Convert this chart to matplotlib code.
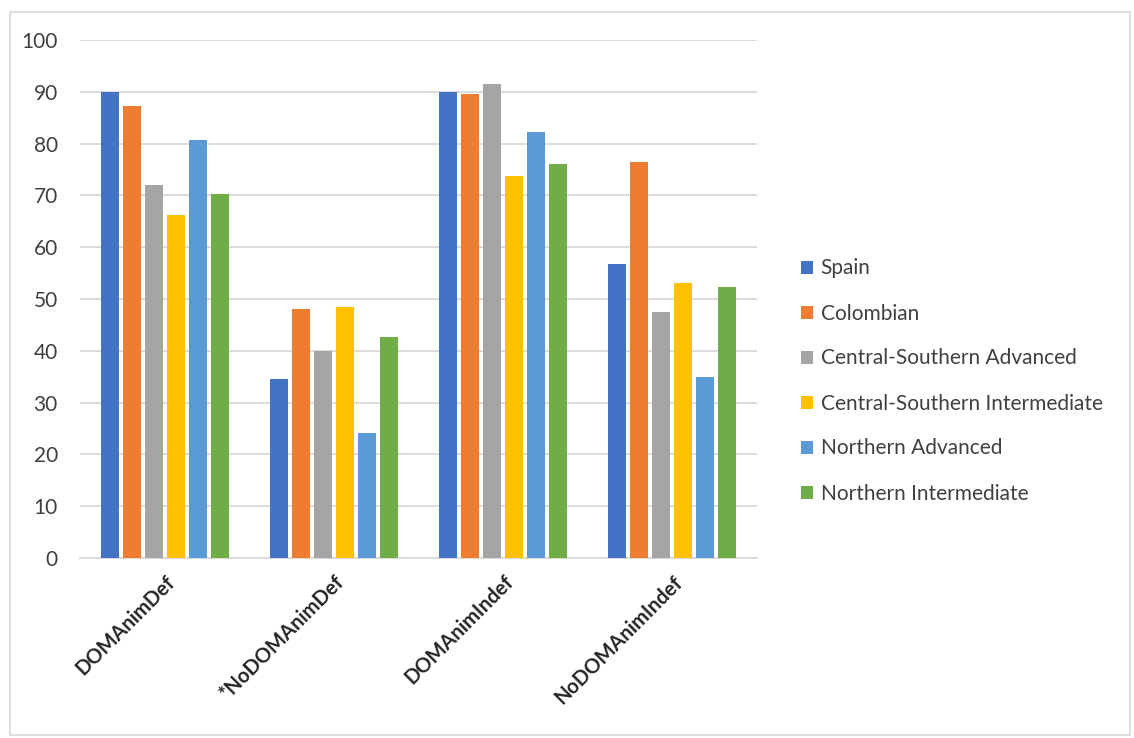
import numpy as np
import matplotlib.pyplot as plt
from matplotlib.patches import Rectangle

# categories and series
categories = ["DOMAnimDef", "*NoDOMAnimDef", "DOMAnimIndef", "NoDOMAnimIndef"]
series_names = ["Spain", "Colombian", "Central-Southern Advanced",
                "Central-Southern Intermediate", "Northern Advanced",
                "Northern Intermediate"]

spain = [90.0, 34.6, 90.0, 56.7]
colombian = [87.3, 48.1, 89.6, 76.4]
cs_advanced = [72.1, 40.0, 91.5, 47.4]
cs_intermediate = [66.3, 48.5, 73.7, 53.1]
n_advanced = [80.6, 24.1, 82.2, 35.0]
n_intermediate = [70.2, 42.6, 76.0, 52.4]

values = [spain, colombian, cs_advanced, cs_intermediate, n_advanced, n_intermediate]
colors = ["#4472C4", "#ED7D31", "#A5A5A5", "#FFC000", "#5B9BD5", "#70AD47"]

plt.rcParams['font.family'] = ['Lato', 'DejaVu Sans']

fig = plt.figure(figsize=(11.34, 7.38), dpi=100)
ax = fig.add_axes([80 / 1134, 1 - 558 / 738, 677 / 1134, 518 / 738])

x = np.arange(len(categories))
slot = 0.13
width = 0.107
for i, (name, vals, c) in enumerate(zip(series_names, values, colors)):
    offset = (i - 2.5) * slot
    ax.bar(x + offset, vals, width, color=c, label=name, zorder=3)

ax.set_xlim(-0.5, 3.5)
ax.set_ylim(0, 100)
ax.set_yticks(np.arange(0, 101, 10))
ax.yaxis.grid(True, color="#d9d9d9", linewidth=1.3, zorder=0)
for s in ["top", "right", "left"]:
    ax.spines[s].set_visible(False)
ax.spines["bottom"].set_color("#d9d9d9")
ax.spines["bottom"].set_linewidth(1.3)
ax.tick_params(axis="both", length=0, labelsize=15, colors="#404040")
ax.tick_params(axis="y", pad=16)
ax.set_xticks(x)
ax.set_xticklabels(categories, rotation=45, ha="right", rotation_mode="anchor",
                   fontsize=14.5, fontweight="bold", color="#262626")
ax.tick_params(axis="x", pad=10)

fig.legend(loc="center left", bbox_to_anchor=(782 / 1134, 1 - 381 / 738),
           frameon=False, fontsize=15, handlelength=0.6, handleheight=0.6,
           handletextpad=0.35, labelspacing=1.2, labelcolor="#404040")

# chart area border
fig.patches.append(Rectangle((10 / 1134, 3 / 738), 1120 / 1134, 723 / 738,
                             transform=fig.transFigure, fill=False,
                             edgecolor="#d9d9d9", linewidth=1.2))

fig.savefig("out.png", dpi=100)
